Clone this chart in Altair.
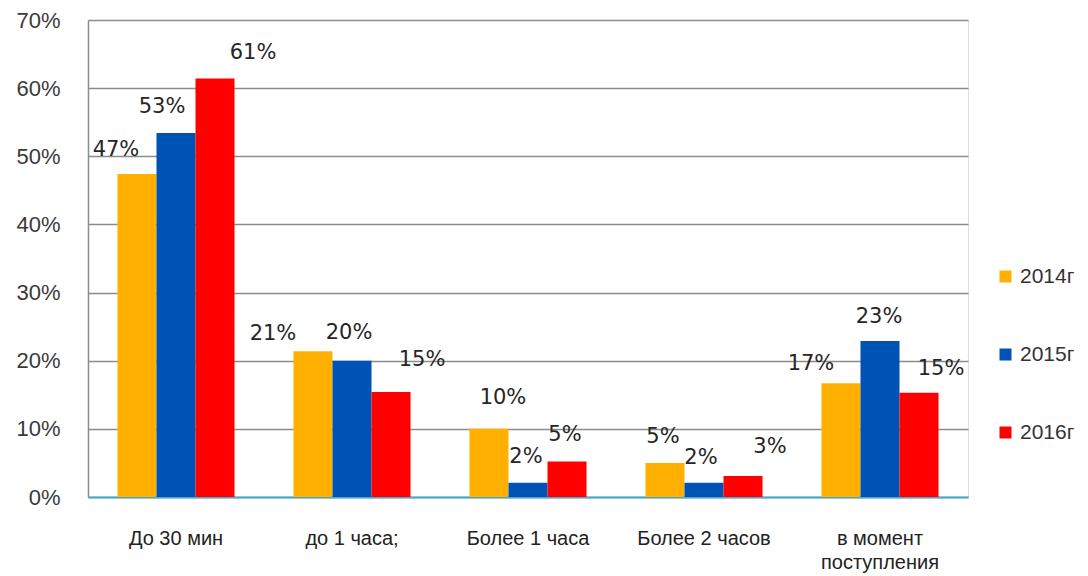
import altair as alt
import pandas as pd

categories = ["До 30 мин", "до 1 часа;", "Более 1 часа", "Более 2 часов", "в момент поступления"]
years = ["2014г", "2015г", "2016г"]
v2014 = [47.4, 21.4, 10.0, 5.0, 16.7]
v2015 = [53.4, 20.0, 2.1, 2.1, 22.9]
v2016 = [61.4, 15.4, 5.2, 3.1, 15.3]
colors = ["#FFB000", "#0052B4", "#FF0000"]

# label placement nudges (pixels), styling only
nudge_dx = {"2014г": [-21, -40, 14, -2, -30],
            "2015г": [-14, -3, -2, -3, -1],
            "2016г": [38, 31, -2, 27, 22]}
nudge_up = {"2014г": [24, 17, 31, 26, 19],
            "2015г": [26, 28, 26, 25, 24],
            "2016г": [26, 32, 27, 29, 24]}

rows = []
for yr, vals in zip(years, [v2014, v2015, v2016]):
    for c, v in zip(categories, vals):
        rows.append({"category": c, "year": yr, "value": v})
df = pd.DataFrame(rows)

base = alt.Chart(df).encode(
    x=alt.X("category:N", sort=categories, title=None,
            scale=alt.Scale(paddingInner=0.335, paddingOuter=0.1675),
            axis=alt.Axis(labelAngle=0, labelFontSize=20, labelColor="#222222",
                          labelFont="Liberation Sans", labelPadding=31,
                          ticks=False, domainColor="#46AAC8", domainWidth=2,
                          labelLineHeight=24,
                          labelExpr="datum.label == 'в момент поступления' ? ['в момент', 'поступления'] : datum.label")),
    xOffset=alt.XOffset("year:N", sort=years, scale=alt.Scale(paddingInner=0, paddingOuter=0)),
    y=alt.Y("value:Q", title=None,
            scale=alt.Scale(domain=[0, 70], nice=False),
            axis=alt.Axis(values=list(range(0, 71, 10)), labelExpr="datum.value + '%'",
                          labelFontSize=22, labelColor="#3A3A3A", labelFont="Liberation Sans",
                          labelPadding=28, ticks=False, domainColor="#8C8C8C", domainWidth=1.5,
                          gridColor="#8C8C8C", gridWidth=1.3)),
)

bars = base.mark_bar().encode(
    color=alt.Color("year:N", sort=years,
                    scale=alt.Scale(domain=years, range=colors),
                    legend=alt.Legend(title=None, orient="none", legendX=907, legendY=246,
                                      symbolType="square", symbolSize=144, symbolStrokeWidth=0,
                                      labelFontSize=21, labelFont="Liberation Sans",
                                      labelColor="#333333", rowPadding=56, labelOffset=4,
                                      padding=0))
)

layers = [bars]
for yr in years:
    for i, c in enumerate(categories):
        t = base.transform_filter(
            (alt.datum.category == c) & (alt.datum.year == yr)
        ).transform_calculate(
            label="format(datum.value, '.0f') + '%'"
        ).mark_text(
            baseline="middle", align="center", dx=nudge_dx[yr][i], dy=-nudge_up[yr][i],
            font="DejaVu Sans", fontSize=21, color="#262626"
        ).encode(text="label:N")
        layers.append(t)

chart = alt.layer(*layers).properties(
    width=880, height=477,
    padding={"left": 80, "top": 12, "right": 112, "bottom": 76},
    autosize="none",
).configure_view(stroke="transparent").configure(background="white")

chart.save("out.html", embed_options={"renderer": "svg", "actions": False})
